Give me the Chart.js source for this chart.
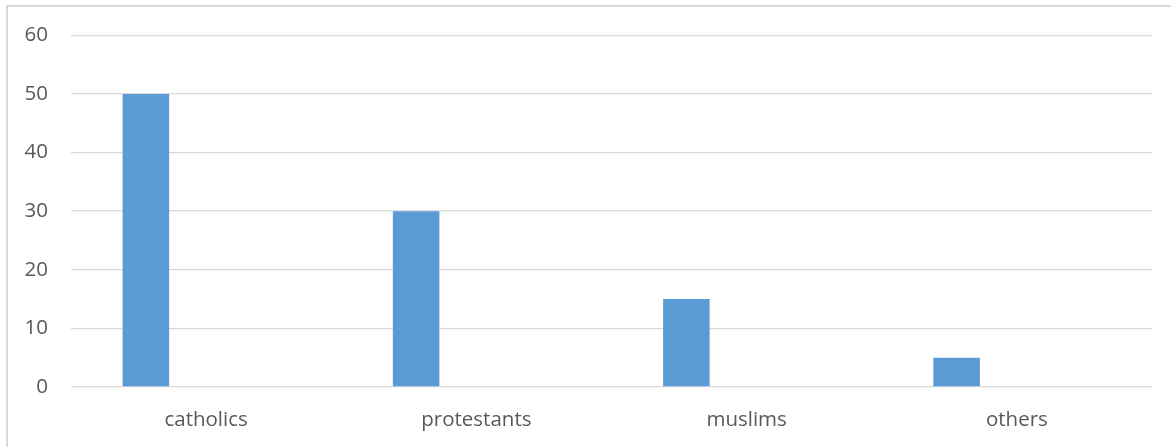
<!DOCTYPE html>
<html>
<head>
<meta charset="utf-8">
<script src="https://cdn.jsdelivr.net/npm/chart.js@4.4.1/dist/chart.umd.min.js"></script>
<style>
  html, body { margin: 0; padding: 0; background: #ffffff; }
  #wrap { position: relative; width: 1171px; height: 447px; overflow: hidden; }
  #frame { position: absolute; left: 6px; top: 5px; width: 1200px; height: 500px;
           border-top: 2px solid #d9d9d9; border-left: 2px solid #d9d9d9; box-sizing: border-box; }
  canvas { position: absolute; left: 0; top: 0; }
</style>
</head>
<body>
<div id="wrap">
  <div id="frame"></div>
  <canvas id="chart" width="1171" height="447"></canvas>
</div>
<script>
const categories = ['catholics', 'protestants', 'muslims', 'others'];
const series1 = [50, 30, 15, 5];
const series2 = [null, null, null, null];
const yTicks = [0, 10, 20, 30, 40, 50, 60];

const textColor = '#595959';
const font = { family: "'Open Sans', 'Liberation Sans', sans-serif", size: 20.5 };

new Chart(document.getElementById('chart'), {
  type: 'bar',
  data: {
    labels: categories,
    datasets: [
      { data: series1, backgroundColor: '#5b9bd5', borderWidth: 0,
        categoryPercentage: 0.892, barPercentage: 0.386 },
      { data: series2, backgroundColor: '#ed7d31', borderWidth: 0,
        categoryPercentage: 0.892, barPercentage: 0.386 }
    ]
  },
  options: {
    responsive: false,
    animation: false,
    layout: { padding: { left: 0, right: 19, top: 23, bottom: 0 } },
    plugins: { legend: { display: false }, tooltip: { enabled: false } },
    scales: {
      x: {
        grid: { display: false },
        border: { display: false },
        ticks: { color: textColor, font: font, padding: 13 },
        afterFit: (axis) => { axis.height = 60; }
      },
      y: {
        min: yTicks[0],
        max: yTicks[yTicks.length - 1],
        afterBuildTicks: (axis) => { axis.ticks = yTicks.map(v => ({ value: v })); },
        grid: { color: '#d9d9d9', lineWidth: 1.3, drawTicks: false },
        border: { display: false },
        ticks: { color: textColor, font: font, padding: 23 },
        afterFit: (axis) => { axis.width = 71; }
      }
    }
  }
});
</script>
</body>
</html>
